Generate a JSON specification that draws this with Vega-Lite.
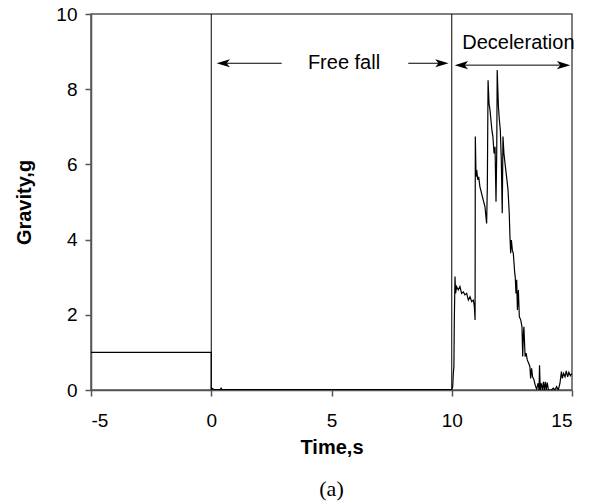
{
  "$schema": "https://vega.github.io/schema/vega-lite/v6.json",
  "width": 481,
  "height": 376,
  "autosize": {"type": "none"},
  "padding": {"left": 91, "top": 14, "right": 21, "bottom": 112},
  "background": "white",
  "title": {"text": "(a)", "orient": "bottom", "anchor": "middle", "font": "Liberation Serif", "fontSize": 22, "fontWeight": "normal", "color": "black", "offset": 22},
  "config": {
    "view": {"stroke": "#555", "strokeWidth": 1.5},
    "axis": {"grid": false, "domainColor": "#555", "domainWidth": 1.5, "tickColor": "#555", "tickWidth": 1.5, "tickSize": 6, "labelFont": "Liberation Sans", "labelFontSize": 19, "labelColor": "black", "titleFont": "Liberation Sans", "titleFontSize": 20, "titleFontWeight": "bold", "titleColor": "black"}
  },
  "datasets": {
    "signal": [
      {"t": -5, "g": 1}, {"t": 0, "g": 1}, {"t": 0, "g": 0.02}, {"t": 0.06, "g": 0.04}, {"t": 0.1, "g": 0.01}, {"t": 0.38, "g": 0.01}, {"t": 0.41, "g": 0.05}, {"t": 0.45, "g": 0.01}, {"t": 9.95, "g": 0.01},
      {"t": 9.996, "g": 0.0}, {"t": 10.04, "g": 0.09}, {"t": 10.065, "g": 0.44}, {"t": 10.09, "g": 0.62}, {"t": 10.107, "g": 1.86}, {"t": 10.135, "g": 3.02},
      {"t": 10.16, "g": 2.57}, {"t": 10.2, "g": 2.75}, {"t": 10.27, "g": 2.66}, {"t": 10.34, "g": 2.75}, {"t": 10.41, "g": 2.57}, {"t": 10.48, "g": 2.61},
      {"t": 10.55, "g": 2.53}, {"t": 10.62, "g": 2.57}, {"t": 10.69, "g": 2.39}, {"t": 10.76, "g": 2.48}, {"t": 10.83, "g": 2.35}, {"t": 10.9, "g": 2.39},
      {"t": 10.94, "g": 2.22}, {"t": 10.97, "g": 1.86}, {"t": 10.98, "g": 6.74}, {"t": 11.01, "g": 5.67}, {"t": 11.04, "g": 5.85}, {"t": 11.08, "g": 5.59},
      {"t": 11.12, "g": 5.67}, {"t": 11.17, "g": 5.41}, {"t": 11.24, "g": 5.23}, {"t": 11.31, "g": 5.05}, {"t": 11.38, "g": 4.88}, {"t": 11.45, "g": 4.43},
      {"t": 11.48, "g": 5.41}, {"t": 11.51, "g": 8.24}, {"t": 11.55, "g": 7.62}, {"t": 11.59, "g": 7.45}, {"t": 11.63, "g": 7.18}, {"t": 11.67, "g": 6.91},
      {"t": 11.71, "g": 6.74}, {"t": 11.76, "g": 6.29}, {"t": 11.8, "g": 6.47}, {"t": 11.84, "g": 5.01}, {"t": 11.87, "g": 6.29}, {"t": 11.89, "g": 8.51},
      {"t": 11.94, "g": 7.54}, {"t": 11.98, "g": 7.18}, {"t": 12.02, "g": 6.91}, {"t": 12.06, "g": 6.12}, {"t": 12.1, "g": 4.7}, {"t": 12.13, "g": 6.74},
      {"t": 12.17, "g": 6.29}, {"t": 12.23, "g": 5.94}, {"t": 12.28, "g": 5.67}, {"t": 12.34, "g": 5.32}, {"t": 12.39, "g": 4.7}, {"t": 12.42, "g": 4.08},
      {"t": 12.45, "g": 3.64}, {"t": 12.48, "g": 3.99}, {"t": 12.52, "g": 3.72}, {"t": 12.56, "g": 3.63}, {"t": 12.62, "g": 3.1}, {"t": 12.64, "g": 3.01},
      {"t": 12.67, "g": 2.57}, {"t": 12.7, "g": 2.93}, {"t": 12.73, "g": 2.13}, {"t": 12.77, "g": 2.66}, {"t": 12.81, "g": 1.95}, {"t": 12.87, "g": 1.86},
      {"t": 12.92, "g": 1.68}, {"t": 12.95, "g": 0.89}, {"t": 12.98, "g": 1.51}, {"t": 13.0, "g": 1.68}, {"t": 13.05, "g": 0.89}, {"t": 13.09, "g": 0.98},
      {"t": 13.14, "g": 0.8}, {"t": 13.2, "g": 0.71}, {"t": 13.25, "g": 0.62}, {"t": 13.28, "g": 0.31}, {"t": 13.32, "g": 0.58}, {"t": 13.36, "g": 0.35},
      {"t": 13.42, "g": 0.27}, {"t": 13.47, "g": 0.13}, {"t": 13.53, "g": 0.02}, {"t": 13.59, "g": 0.18}, {"t": 13.63, "g": 0.0}, {"t": 13.65, "g": 0.66},
      {"t": 13.68, "g": 0.0}, {"t": 13.72, "g": 0.18}, {"t": 13.77, "g": 0.0}, {"t": 13.81, "g": 0.22}, {"t": 13.85, "g": 0.0}, {"t": 13.89, "g": 0.22},
      {"t": 13.93, "g": 0.0}, {"t": 13.97, "g": 0.2}, {"t": 14.02, "g": 0.0}, {"t": 14.15, "g": 0.0}, {"t": 14.22, "g": 0.05}, {"t": 14.29, "g": 0.0},
      {"t": 14.36, "g": 0.09}, {"t": 14.43, "g": 0.0}, {"t": 14.5, "g": 0.18}, {"t": 14.56, "g": 0.49}, {"t": 14.6, "g": 0.31}, {"t": 14.65, "g": 0.44},
      {"t": 14.71, "g": 0.35}, {"t": 14.76, "g": 0.51}, {"t": 14.82, "g": 0.35}, {"t": 14.87, "g": 0.47}, {"t": 14.93, "g": 0.38}, {"t": 14.99, "g": 0.44}
    ],
    "markers": [{"t": 0}, {"t": 10}],
    "arrowLines": [
      {"a": 0.5, "b": 2.93, "y": 8.69},
      {"a": 8.19, "b": 9.6, "y": 8.69},
      {"a": 10.4, "b": 14.65, "y": 8.64}
    ],
    "arrowHeads": [
      {"t": 0.5, "y": 8.69, "dir": "left"},
      {"t": 9.59, "y": 8.69, "dir": "right"},
      {"t": 10.4, "y": 8.64, "dir": "left"},
      {"t": 14.65, "y": 8.64, "dir": "right"}
    ],
    "labels": [
      {"t": 5.52, "y": 8.69, "text": "Free fall"},
      {"t": 12.77, "y": 9.22, "text": "Deceleration"}
    ]
  },
  "layer": [
    {
      "data": {"name": "markers"},
      "mark": {"type": "rule", "color": "black", "strokeWidth": 1},
      "encoding": {
        "x": {"field": "t", "type": "quantitative", "scale": {"domain": [-5, 15], "nice": false, "zero": false},
          "axis": {"values": [-5, 0, 5, 10, 15], "labelExpr": "'' + datum.value", "title": "Time,s", "labelPadding": 15, "titlePadding": 7}}
      }
    },
    {
      "data": {"name": "signal"},
      "mark": {"type": "line", "color": "black", "strokeWidth": 1.2, "clip": true},
      "encoding": {
        "x": {"field": "t", "type": "quantitative"},
        "y": {"field": "g", "type": "quantitative", "scale": {"domain": [0, 10], "nice": false},
          "axis": {"values": [0, 2, 4, 6, 8, 10], "title": "Gravity,g", "labelPadding": 8, "titlePadding": 21}}
      }
    },
    {
      "data": {"name": "arrowLines"},
      "mark": {"type": "rule", "color": "black", "strokeWidth": 1},
      "encoding": {
        "x": {"field": "a", "type": "quantitative"},
        "x2": {"field": "b"},
        "y": {"field": "y", "type": "quantitative"}
      }
    },
    {
      "data": {"name": "arrowHeads"},
      "transform": [{"filter": "datum.dir == 'left'"}],
      "mark": {"type": "point", "filled": true, "color": "black", "opacity": 1, "size": 180, "shape": "M -1 0 L 1 -0.6 L 0.5 0 L 1 0.6 Z"},
      "encoding": {
        "x": {"field": "t", "type": "quantitative"},
        "y": {"field": "y", "type": "quantitative"}
      }
    },
    {
      "data": {"name": "arrowHeads"},
      "transform": [{"filter": "datum.dir == 'right'"}],
      "mark": {"type": "point", "filled": true, "color": "black", "opacity": 1, "size": 180, "shape": "M 1 0 L -1 -0.6 L -0.5 0 L -1 0.6 Z"},
      "encoding": {
        "x": {"field": "t", "type": "quantitative"},
        "y": {"field": "y", "type": "quantitative"}
      }
    },
    {
      "data": {"name": "labels"},
      "mark": {"type": "text", "font": "Liberation Sans", "fontSize": 20, "color": "black", "align": "center", "baseline": "middle"},
      "encoding": {
        "x": {"field": "t", "type": "quantitative"},
        "y": {"field": "y", "type": "quantitative"},
        "text": {"field": "text"}
      }
    }
  ]
}
